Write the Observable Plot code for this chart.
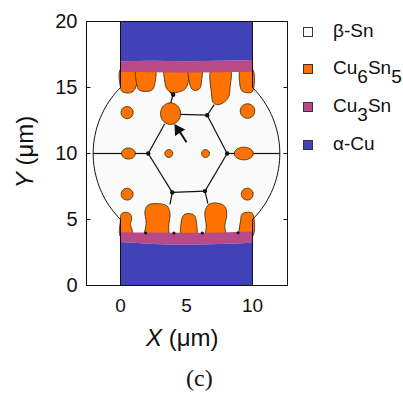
<!DOCTYPE html>
<html><head><meta charset="utf-8">
<script src="https://cdn.jsdelivr.net/npm/d3@7"></script>
<script src="https://cdn.jsdelivr.net/npm/@observablehq/plot@0.6"></script>
<style>
body{margin:0;background:#fff;}
#wrap{position:relative;width:403px;height:394px;font-family:"Liberation Sans",Arial,sans-serif;color:#111;}
#wrap svg{position:absolute;left:0;top:0;}
.lab{position:absolute;font-size:24px;white-space:nowrap;line-height:1;}
.leg{position:absolute;left:303px;font-size:19px;line-height:1;font-family:"Liberation Sans",Arial,sans-serif;}
.leg .sw{position:absolute;left:0;width:8px;height:8px;border:1px solid #333;}
.leg .tx{position:absolute;left:30px;white-space:nowrap;}
.leg sub{font-size:19px;vertical-align:-0.45em;line-height:0;}
</style></head><body><div id="wrap"></div>
<script>
// ---- axes
const xTicks = [0, 5, 10];
const yTicks = [0, 5, 10, 15, 20];
const xDomain = [-2.576, 12.652];
const yDomain = [0, 20];

// ---- legend
const legendNames = ["β-Sn", "Cu<sub>6</sub>Sn<sub>5</sub>", "Cu<sub>3</sub>Sn", "α-Cu"];
const legendColors = ["#fafafa", "#ff7200", "#b84a88", "#4242b8"];

// ---- solder ball (β-Sn) : circle centre and radius, pad rectangle
const ball = {cx: 5, cy: 10, r: 7.07};
const padX = [0, 10];

// ---- intermetallic / Cu bands (sampled along x)
const bandX = [0, 2.5, 5, 7.5, 10];
const botBlueTop = [3.25, 3.1, 3.05, 3.1, 3.2];
const botMagTop = [4.0, 3.97, 3.95, 3.97, 4.05];
const topMagBottom = [16.15, 16.12, 16.1, 16.12, 16.15];
const topBlueBottom = [16.95, 16.98, 16.95, 16.98, 17.05];

// ---- Cu6Sn5 scallops (outline points, µm)
const topColumns = [
  [[0,16.4],[0,15.0],[0.12,14.7],[0.55,14.58],[0.95,14.7],[1.18,15.1],[1.2,16.4]],
  [[1.22,16.4],[1.24,15.2],[1.4,14.82],[1.9,14.7],[2.4,14.82],[2.6,15.3],[2.6,16.4]],
  [[3.36,16.4],[3.35,15.5],[3.5,14.9],[3.9,14.6],[4.4,14.66],[4.9,14.9],[5.12,15.4],[5.12,16.4]],
  [[5.2,16.4],[5.24,15.3],[5.42,14.88],[5.72,14.78],[6.02,14.95],[6.14,15.5],[6.14,16.4]],
  [[6.9,16.4],[6.9,14.5],[7.0,13.9],[7.3,13.7],[7.8,13.85],[8.2,14.3],[8.3,15.0],[8.3,16.4]],
  [[9.1,16.4],[9.05,15.2],[9.2,14.75],[9.6,14.6],[10,14.7],[10,16.4]]
];
const bottomColumns = [
  [[0,3.7],[0,5.0],[0.05,5.4],[0.35,5.55],[0.7,5.45],[0.85,5.1],[0.75,4.6],[0.88,4.2],[0.9,3.7]],
  [[1.9,3.7],[1.95,4.8],[1.85,5.6],[2.1,6.1],[2.8,6.2],[3.5,6.05],[3.75,5.5],[3.65,4.5],[3.6,3.7]],
  [[4.65,3.7],[4.6,4.8],[4.8,5.35],[5.2,5.45],[5.6,5.3],[5.75,4.8],[5.7,3.7]],
  [[6.5,3.7],[6.5,4.5],[6.4,5.6],[6.7,6.15],[7.3,6.25],[7.9,6.0],[8.05,5.4],[7.9,4.5],[7.95,3.7]],
  [[9.05,3.7],[9.0,4.3],[9.1,4.9],[9.2,5.4],[9.6,5.55],[10,5.45],[10,3.7]]
];
// isolated Cu6Sn5 particles: cx, cy, rx, ry
const particles = [
  [3.79, 13.02, 0.76, 0.82],
  [0.6, 10.0, 0.52, 0.42],
  [9.34, 10.0, 0.72, 0.48],
  [3.66, 10.0, 0.3, 0.3],
  [6.44, 10.0, 0.3, 0.3],
  [0.5, 13.1, 0.46, 0.46],
  [9.62, 13.22, 0.55, 0.55],
  [0.5, 6.92, 0.45, 0.45],
  [9.6, 6.92, 0.45, 0.45]
];

// ---- grain boundaries (segments x1,y1,x2,y2)
const boundaries = [
  [-2.07,10, 0.1,10], [1.1,10, 2.1,10],
  [8.08,10, 8.65,10], [10.05,10, 12.07,10],
  [2.1,10, 3.35,12.25], [4.55,12.96, 6.57,12.9], [6.57,12.9, 8.08,10],
  [8.08,10, 6.4,7.15], [6.4,7.15, 3.92,7.05], [3.92,7.05, 2.1,10],
  [6.57,12.9, 7.1,13.7], [3.8,13.83, 3.99,14.45], [3.99,14.45, 4.05,14.65],
  [3.99,14.45, 3.75,14.65],
  [3.92,7.05, 3.75,6.15], [6.4,7.15, 6.62,6.2]
];
const junctions = [[2.1,10],[8.08,10],[6.57,12.9],[3.92,7.05],[6.4,7.15],[3.99,14.45]];
const baseJunctions = [[1.9,3.98],[4.05,3.97],[6.2,3.97],[8.9,4.0]];
// arrow (tail -> head)
const arrow = {x1: 5.0, y1: 10.85, x2: 4.3, y2: 11.95};

// ---------- build tables
const polyRows = (shapes, tag) => shapes.flatMap((pts, i) => pts.map(([x, y]) => ({id: tag + i, x, y})));
const ellipseRows = particles.flatMap(([cx, cy, rx, ry], i) =>
  d3.range(24).map(k => ({id: "p" + i, x: cx + rx * Math.cos(k / 24 * 2 * Math.PI), y: cy + ry * Math.sin(k / 24 * 2 * Math.PI)})));
const circleFill = d3.range(120).map(k => ({x: ball.cx + ball.r * Math.cos(k / 120 * 2 * Math.PI), y: ball.cy + ball.r * Math.sin(k / 120 * 2 * Math.PI)}));
const arc = (a0, a1) => d3.range(41).map(k => { const a = (a0 + (a1 - a0) * k / 40) * Math.PI / 180; return {x: ball.cx + ball.r * Math.cos(a), y: ball.cy + ball.r * Math.sin(a)}; });
const arcRows = [...arc(135, 225).map(d => ({...d, id: "L"})), ...arc(-45, 45).map(d => ({...d, id: "R"}))];
const bands = bandX.map((x, i) => ({x, b0: 0, b1: botBlueTop[i], b2: botMagTop[i], t1: topMagBottom[i], t2: topBlueBottom[i], t3: 20}));
const segs = boundaries.map(([x1, y1, x2, y2]) => ({x1, y1, x2, y2}));
const xmin = xDomain[0], xmax = xDomain[1];

const orange = legendColors[1], magenta = legendColors[2], blue = legendColors[3], snc = legendColors[0];
const edge = "#3a2c00";

const plot = Plot.plot({
  width: 403, height: 394,
  marginLeft: 86, marginRight: 116, marginTop: 21, marginBottom: 109,
  x: {domain: xDomain}, y: {domain: yDomain},
  style: {fontFamily: "Liberation Sans, Arial, sans-serif", background: "transparent", color: "#111"},
  marks: [
    Plot.line(circleFill, {x: "x", y: "y", fill: snc, stroke: "none", curve: "linear-closed"}),
    Plot.rect([{x1: padX[0], x2: padX[1], y1: 3, y2: 17}], {x1: "x1", x2: "x2", y1: "y1", y2: "y2", fill: snc}),
    Plot.line(polyRows(topColumns, "t"), {x: "x", y: "y", z: "id", fill: orange, stroke: edge, strokeWidth: 0.8, curve: "catmull-rom-closed"}),
    Plot.line(polyRows(bottomColumns, "b"), {x: "x", y: "y", z: "id", fill: orange, stroke: edge, strokeWidth: 0.8, curve: "catmull-rom-closed"}),
    Plot.line(ellipseRows, {x: "x", y: "y", z: "id", fill: orange, stroke: edge, strokeWidth: 0.8, curve: "catmull-rom-closed"}),
    Plot.areaY(bands, {x: "x", y1: "b1", y2: "b2", fill: magenta, curve: "natural"}),
    Plot.areaY(bands, {x: "x", y1: "b0", y2: "b1", fill: blue, curve: "natural"}),
    Plot.areaY(bands, {x: "x", y1: "t1", y2: "t2", fill: magenta, curve: "natural"}),
    Plot.areaY(bands, {x: "x", y1: "t2", y2: "t3", fill: blue, curve: "natural"}),
    Plot.link(segs, {x1: "x1", y1: "y1", x2: "x2", y2: "y2", stroke: "#111", strokeWidth: 1.2}),
    Plot.dot(junctions, {x: d => d[0], y: d => d[1], r: 2.2, fill: "#111"}),
    Plot.dot(baseJunctions, {x: d => d[0], y: d => d[1], r: 1.5, fill: "#111"}),
    Plot.line(arcRows, {x: "x", y: "y", z: "id", stroke: "#111", strokeWidth: 1}),
    Plot.link([{x: 0, a: 0, b: 5}, {x: 0, a: 15, b: 20}, {x: 10, a: 0, b: 5}, {x: 10, a: 15, b: 20}],
      {x1: "x", x2: "x", y1: "a", y2: "b", stroke: "#111", strokeWidth: 1}),
    Plot.link([arrow], {x1: "x1", y1: "y1", x2: "x2", y2: "y2", stroke: "#111", strokeWidth: 2}),
    Plot.dot([arrow], {x: "x2", y: "y2", symbol: "triangle", r: 4.5, fill: "#111", rotate: -33, dx: 1, dy: 2}),
    Plot.frame({stroke: "#111", strokeWidth: 1}),
    Plot.link(yTicks.slice(1, -1), {x1: xmin, x2: xmin + 0.3, y1: d => d, y2: d => d, stroke: "#111"}),
    Plot.link(yTicks.slice(1, -1), {x1: xmax, x2: xmax - 0.3, y1: d => d, y2: d => d, stroke: "#111"}),
    Plot.axisY(yTicks, {tickSize: 0, tickPadding: 9, fontSize: 20, label: null}),
    Plot.axisX(xTicks, {tickSize: 0, tickPadding: 13, fontSize: 19, label: null})
  ]
});
const wrap = document.getElementById("wrap");
wrap.appendChild(plot);

function addDiv(html, cls, style) {
  const d = document.createElement("div");
  d.className = cls; d.innerHTML = html; Object.assign(d.style, style); wrap.appendChild(d); return d;
}
addDiv('<i>X</i> (μm)', "lab", {left: "146px", top: "326px"});
addDiv('<i>Y</i> (μm)', "lab", {left: "25px", top: "152px", transform: "translate(-50%,-50%) rotate(-90deg)"});
addDiv('(c)', "lab", {left: "186px", top: "366px", fontFamily: "Liberation Serif, 'Times New Roman', serif", fontSize: "24px"});
const legYs = [32, 69, 107, 145];
legendNames.forEach((n, i) => {
  const g = addDiv("", "leg", {top: (legYs[i] - 5) + "px"});
  g.innerHTML = `<div class="sw" style="background:${legendColors[i]};top:0"></div><div class="tx" style="top:-6px">${n}</div>`;
});
</script>
</body></html>
